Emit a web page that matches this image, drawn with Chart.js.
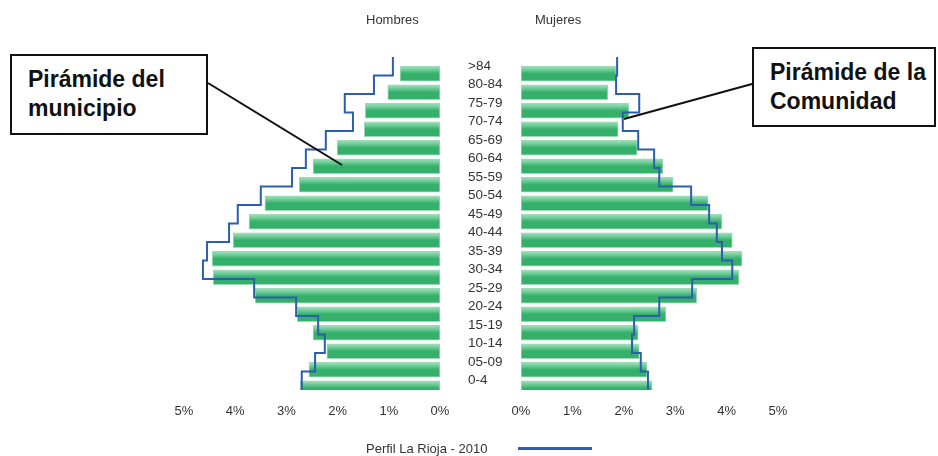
<!DOCTYPE html>
<html>
<head>
<meta charset="utf-8">
<script src="https://cdn.jsdelivr.net/npm/chart.js@4.4.1/dist/chart.umd.min.js"></script>
<style>
    body { margin: 0; background: #fff; font-family: "Liberation Sans", Arial, sans-serif; }
    #page { position: relative; width: 938px; height: 456px; overflow: hidden; }
    .wrap { position: absolute; top: 0; height: 456px; }
    .title { position: absolute; top: 12px; font-size: 13px; color: #333; }
    .box { position: absolute; border: 2px solid #111; box-sizing: border-box; background: #fff;
           font-weight: bold; font-size: 23px; line-height: 29px; color: #111; padding: 9px 0 0 16px; }
    #legend { position: absolute; left: 366px; top: 441px; font-size: 13px; color: #333; }
    #legend-line { position: absolute; left: 518px; top: 447px; width: 74px; height: 3px; background: #2b5fae; }
</style>
</head>
<body>
<div id="page">
    <div class="wrap" style="left:0;width:460px"><canvas id="hombres-graph"></canvas></div>
    <div class="wrap" style="left:468px;width:470px"><canvas id="mujeres-graph"></canvas></div>

    <div class="title" style="left:366px">Hombres</div>
    <div class="title" style="left:535px">Mujeres</div>

    <svg width="938" height="456" style="position:absolute;left:0;top:0">
        <line x1="208" y1="83" x2="342" y2="165" stroke="#111" stroke-width="2"/>
        <line x1="752" y1="84" x2="624" y2="119" stroke="#111" stroke-width="2"/>
    </svg>
    <div class="box" style="left:10px;top:54px;width:198px;height:81px">Pirámide del<br>municipio</div>
    <div class="box" style="left:752px;top:47px;width:184px;height:80px">Pirámide de la<br>Comunidad</div>

    <div id="legend">Perfil La Rioja - 2010</div>
    <div id="legend-line"></div>
</div>

<script>
// age groups, top to bottom
var ages = ['>84', '80-84', '75-79', '70-74', '65-69', '60-64', '55-59', '50-54', '45-49',
            '40-44', '35-39', '30-34', '25-29', '20-24', '15-19', '10-14', '05-09', '0-4'];

// % of population - municipio
var hombres = [0.78, 1.02, 1.46, 1.48, 2.01, 2.48, 2.75, 3.42, 3.73,
               4.04, 4.45, 4.43, 3.61, 2.79, 2.48, 2.21, 2.56, 2.73];
var mujeres = [1.85, 1.69, 2.10, 1.89, 2.26, 2.76, 2.96, 3.64, 3.91,
               4.11, 4.30, 4.24, 3.42, 2.82, 2.28, 2.30, 2.45, 2.55];

// % of population - Perfil La Rioja 2010
var hombresRioja = [0.92, 1.29, 1.86, 1.70, 2.23, 2.62, 2.89, 3.50, 3.95,
                    4.12, 4.55, 4.63, 3.63, 2.81, 2.38, 2.25, 2.44, 2.70];
var mujeresRioja = [1.87, 1.85, 2.30, 1.98, 2.28, 2.59, 2.69, 3.31, 3.66,
                    3.81, 3.91, 4.11, 3.33, 2.69, 2.20, 2.16, 2.33, 2.47];

var xTicks = [0, 1, 2, 3, 4, 5];

var colors = {
    line: '#2b5fae',
    text: '#333',
    barEdge: 'rgba(150,215,175,0.9)'
};

// step outline: one vertical segment per age row
function stepPoints(values) {
    var pts = [];
    for (var i = 0; i < values.length; i++) {
        pts.push({ x: values[i], y: i - 0.5 });
        pts.push({ x: values[i], y: i + 0.5 });
    }
    return pts;
}

function barFill(context) {
    var chart = context.chart;
    if (!chart.chartArea || !chart.scales.y) {
        return '#6fcb95';
    }
    var y = chart.scales.y.getPixelForValue(context.dataIndex);
    var g = chart.ctx.createLinearGradient(0, y - 7.5, 0, y + 7.5);
    g.addColorStop(0, '#eefaf2');
    g.addColorStop(0.3, '#c8eed6');
    g.addColorStop(0.7, '#78d19f');
    g.addColorStop(1, '#34b06a');
    return g;
}

function makePyramid(id, bars, rioja, left) {
    var ctx = document.getElementById(id);
    return new Chart(ctx, {
        data: {
            labels: ages,
            datasets: [{
                type: 'line',
                label: 'Perfil La Rioja - 2010',
                data: stepPoints(rioja),
                yAxisID: 'yl',
                borderColor: colors.line,
                borderWidth: 2,
                pointRadius: 0,
                fill: false,
                tension: 0,
                order: 0
            }, {
                type: 'bar',
                label: id,
                data: bars,
                yAxisID: 'y',
                backgroundColor: barFill,
                borderColor: colors.barEdge,
                borderWidth: 1,
                borderSkipped: false,
                barThickness: 15,
                order: 1
            }]
        },
        options: {
            indexAxis: 'y',
            responsive: true,
            maintainAspectRatio: false,
            animation: false,
            layout: {
                padding: left ? { left: 184, right: 20, top: 57, bottom: 36 }
                              : { left: 0, right: 160, top: 57, bottom: 36 }
            },
            plugins: {
                legend: { display: false },
                tooltip: { enabled: false }
            },
            scales: {
                x: {
                    type: 'linear',
                    reverse: left,
                    min: 0,
                    max: 5,
                    afterBuildTicks: function(scale) {
                        scale.ticks = xTicks.map(function(v) { return { value: v }; });
                    },
                    afterFit: function(scale) { scale.height = 30; },
                    ticks: {
                        padding: 14,
                        color: colors.text,
                        font: { family: '"Liberation Sans", Arial, sans-serif', size: 13 },
                        callback: function(v) { return v + '%'; }
                    },
                    grid: { display: false, drawTicks: false },
                    border: { display: false }
                },
                y: {
                    type: 'category',
                    display: !left,
                    afterFit: function(scale) { scale.width = left ? 0 : 53; },
                    ticks: {
                        autoSkip: false,
                        crossAlign: 'far',
                        padding: 0,
                        color: colors.text,
                        font: { family: '"Liberation Sans", Arial, sans-serif', size: 13.5 }
                    },
                    grid: { display: false, drawTicks: false },
                    border: { display: false }
                },
                yl: {
                    type: 'linear',
                    display: false,
                    reverse: true,
                    min: -0.5,
                    max: ages.length - 0.5
                }
            }
        }
    });
}

makePyramid('hombres-graph', hombres, hombresRioja, true);
makePyramid('mujeres-graph', mujeres, mujeresRioja, false);
</script>
</body>
</html>
